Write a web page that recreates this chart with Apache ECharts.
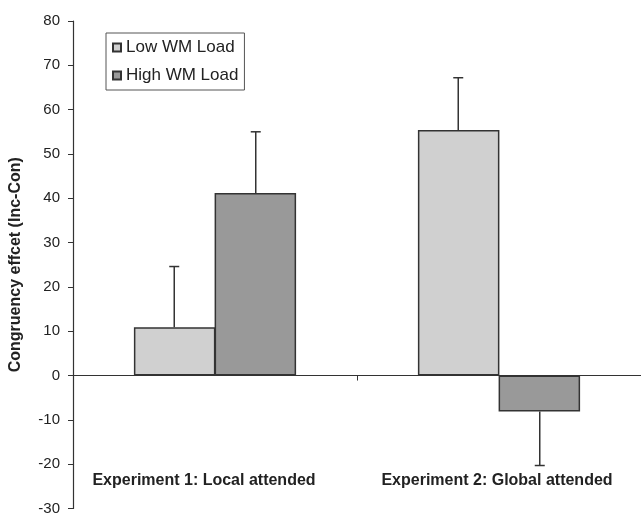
<!DOCTYPE html>
<html lang="en">
<head>
    <meta charset="UTF-8">
    <title>Congruency effect</title>
    <script src="https://cdn.jsdelivr.net/npm/echarts@6/dist/echarts.min.js"></script>
    <style>
        html, body { margin: 0; padding: 0; background: #fff; }
    </style>
</head>
<body>
<div id="main" style="width: 641px; height: 516px;"></div>
<script>
    var categories = ['Experiment 1: Local attended', 'Experiment 2: Global attended'];
    var seriesNames = ['Low WM Load', 'High WM Load'];
    var lowLoad = [10.9, 55.4];
    var highLoad = [41.2, -8.1];
    // error bar size (drawn away from zero)
    var lowErr = [13.7, 11.8];
    var highErr = [13.8, 12.2];

    var BAR_FRAC = 0.287;
    var FONT = 'Liberation Sans, Arial';

    function errorSeries(name, values, errs, side) {
        var data = values.map(function (v, i) { return [i, v, errs[i]]; });
        return {
            name: name + ' err',
            type: 'custom',
            z: 3,
            data: data,
            renderItem: function (params, api) {
                var i = api.value(0);
                var v = api.value(1);
                var e = api.value(2);
                var end = v >= 0 ? v + e : v - e;
                var p0 = api.coord([i, v]);
                var p1 = api.coord([i, end]);
                var band = api.size([1, 0])[0];
                var x = p0[0] + side * band * BAR_FRAC / 2;
                var st = { stroke: '#333', lineWidth: 1.5 };
                return {
                    type: 'group',
                    children: [
                        { type: 'line', shape: { x1: x, y1: p0[1], x2: x, y2: p1[1] }, style: st },
                        { type: 'line', shape: { x1: x - 5, y1: p1[1], x2: x + 5, y2: p1[1] }, style: st }
                    ]
                };
            }
        };
    }

    var chart = echarts.init(document.getElementById('main'));
    chart.setOption({
        backgroundColor: '#ffffff',
        animation: false,
        legend: {
            data: seriesNames,
            orient: 'vertical',
            left: 106,
            top: 33,
            padding: [6, 6, 6, 6],
            itemGap: 11,
            itemWidth: 8,
            itemHeight: 8,
            icon: 'rect',
            borderColor: '#555',
            borderWidth: 1,
            textStyle: { fontFamily: FONT, fontSize: 17, color: '#222', lineHeight: 17 }
        },
        grid: { left: 73, top: 21, width: 572, height: 488 },
        xAxis: [{
            type: 'category',
            data: categories,
            axisLine: { onZero: true, lineStyle: { color: '#333', width: 1.2 } },
            axisTick: { show: true, length: 5, lineStyle: { color: '#333' } },
            axisLabel: { show: false }
        }, {
            type: 'category',
            data: categories,
            position: 'bottom',
            axisLine: { show: false, onZero: false },
            axisTick: { show: false },
            axisLabel: {
                inside: true,
                interval: 0,
                hideOverlap: false,
                margin: 20,
                fontFamily: FONT,
                fontSize: 16,
                fontWeight: 'bold',
                color: '#222',
                formatter: function (val, idx) {
                    return idx === 0 ? '{a|' + val + '}' : '{b|' + val + '}';
                },
                rich: {
                    a: { fontFamily: FONT, fontSize: 16, fontWeight: 'bold', color: '#222', padding: [0, 22, 0, 0] },
                    b: { fontFamily: FONT, fontSize: 16, fontWeight: 'bold', color: '#222', padding: [0, 4, 0, 0] }
                }
            }
        }],
        yAxis: {
            type: 'value',
            min: -30,
            max: 80,
            interval: 10,
            name: 'Congruency effcet (Inc-Con)',
            nameLocation: 'middle',
            nameGap: 49,
            nameTextStyle: { fontFamily: FONT, fontSize: 16, fontWeight: 'bold', color: '#222' },
            axisLine: { show: true, lineStyle: { color: '#333', width: 1.2 } },
            axisTick: { show: true, length: 5, lineStyle: { color: '#333' } },
            axisLabel: { margin: 13, fontFamily: FONT, fontSize: 15, color: '#222' },
            splitLine: { show: false }
        },
        series: [{
            name: seriesNames[0],
            type: 'bar',
            barWidth: (BAR_FRAC * 100) + '%',
            barGap: '-1%',
            itemStyle: { color: '#d0d0d0', borderColor: '#333', borderWidth: 1.5 },
            data: lowLoad
        }, {
            name: seriesNames[1],
            type: 'bar',
            barWidth: (BAR_FRAC * 100) + '%',
            barGap: '-1%',
            itemStyle: { color: '#999999', borderColor: '#333', borderWidth: 1.5 },
            data: highLoad
        },
            errorSeries(seriesNames[0], lowLoad, lowErr, -1),
            errorSeries(seriesNames[1], highLoad, highErr, 1)
        ]
    });
</script>
</body>
</html>
